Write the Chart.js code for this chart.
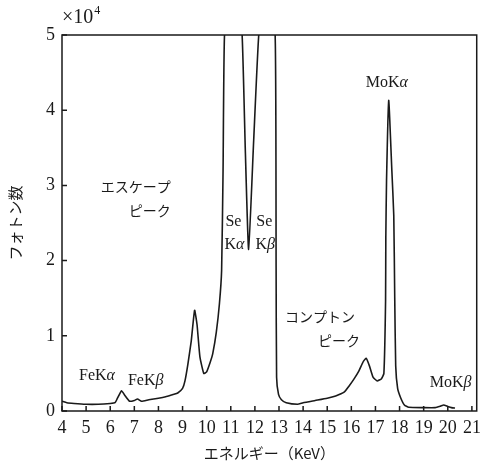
<!DOCTYPE html>
<html>
<head>
<meta charset="utf-8">
<script src="https://cdn.jsdelivr.net/npm/chart.js@4/dist/chart.umd.min.js"></script>
<style>
  body { margin: 0; background: #fff; }
  canvas { display: block; }
</style>
</head>
<body>
<canvas id="spec" width="487" height="466"></canvas>
<script>
// energy (keV) and photon count (x10^4)
const energy = [4.0, 4.2, 4.5, 5.0, 5.5, 6.0, 6.2, 6.3, 6.47, 6.6, 6.8, 7.0, 7.13, 7.3, 7.6, 8.0, 8.3, 8.6, 8.8,
  9.0, 9.1, 9.22, 9.36, 9.5, 9.6, 9.72, 9.88, 10.0, 10.15, 10.25, 10.4, 10.53, 10.62, 10.68, 10.74, 11.1,
  11.47, 11.6, 11.74, 11.95, 12.16, 12.5, 12.84, 12.88, 12.9, 12.98, 13.1, 13.3, 13.77, 14.0, 14.5, 15.0,
  15.35, 15.7, 15.9, 16.1, 16.31, 16.5, 16.62, 16.75, 16.9, 17.07, 17.25, 17.35, 17.42, 17.43, 17.46,
  17.55, 17.68, 17.76, 17.8, 17.84, 17.92, 18.04, 18.2, 18.38, 19.0, 19.48, 19.7, 19.83, 20.0, 20.15, 20.3];
const photons = [0.13, 0.11, 0.10, 0.09, 0.09, 0.10, 0.11, 0.17, 0.27, 0.21, 0.13, 0.14, 0.16, 0.13, 0.15, 0.17, 0.19, 0.22, 0.24,
  0.30, 0.40, 0.62, 0.93, 1.34, 1.15, 0.72, 0.50, 0.52, 0.65, 0.76, 1.05, 1.43, 1.87, 3.2, 5.0, 6.5,
  5.0, 3.5, 2.15, 3.6, 5.0, 6.0, 5.0, 1.9, 0.45, 0.22, 0.15, 0.11, 0.09, 0.11, 0.14, 0.17,
  0.20, 0.25, 0.33, 0.42, 0.53, 0.66, 0.70, 0.60, 0.45, 0.40, 0.43, 0.50, 1.47, 2.3, 3.07,
  4.13, 3.2, 2.6, 1.5, 0.6, 0.3, 0.18, 0.08, 0.05, 0.045, 0.045, 0.065, 0.08, 0.06, 0.045, 0.04];

const xTicks = [4, 5, 6, 7, 8, 9, 10, 11, 12, 13, 14, 15, 16, 17, 18, 19, 20, 21];
const yTicks = [0, 1, 2, 3, 4, 5];

// peak labels: [text parts, energy, count]; parts marked g are greek (italic)
const peakLabels = [
  [[['MoK'], ['α', 'g']], 17.47, 4.36],
  [[['FeK'], ['α', 'g']], 5.45, 0.47],
  [[['FeK'], ['β', 'g']], 7.47, 0.40],
  [[['MoK'], ['β', 'g']], 20.12, 0.37],
  [[['Se']], 11.11, 2.51],
  [[['K'], ['α', 'g']], 11.15, 2.21],
  [[['Se']], 12.39, 2.51],
  [[['K'], ['β', 'g']], 12.43, 2.21]
];
const jpLabels = [
  ['エスケープ', 7.06, 2.98],
  ['ピーク', 7.64, 2.66],
  ['コンプトン', 14.70, 1.26],
  ['ピーク', 15.49, 0.94]
];

const points = energy.map((e, i) => ({x: e, y: photons[i]}));
const serif = 'Liberation Serif, serif';
const jp = '"Noto Sans CJK JP", sans-serif';
const ink = '#1a1a1a';

function drawRich(ctx, parts, cx, cy, size) {
  let w = 0;
  parts.forEach(p => {
    ctx.font = (p[1] === 'g' ? 'italic ' : '') + size + 'px ' + serif;
    w += ctx.measureText(p[0]).width;
  });
  let x = cx - w / 2;
  ctx.textAlign = 'left';
  ctx.textBaseline = 'middle';
  parts.forEach(p => {
    ctx.font = (p[1] === 'g' ? 'italic ' : '') + size + 'px ' + serif;
    ctx.fillText(p[0], x, cy);
    x += ctx.measureText(p[0]).width;
  });
}

const framePlugin = {
  id: 'frame',
  afterDraw(chart) {
    const ctx = chart.ctx;
    const a = chart.chartArea;
    const xs = chart.scales.x, ys = chart.scales.y;
    ctx.save();
    ctx.strokeStyle = ink;
    ctx.lineWidth = 1.5;
    ctx.strokeRect(a.left, a.top, a.right - a.left, a.bottom - a.top);
    ctx.beginPath();
    xTicks.forEach(v => {
      const px = xs.getPixelForValue(v);
      ctx.moveTo(px, a.bottom);
      ctx.lineTo(px, a.bottom - 5);
    });
    yTicks.forEach(v => {
      const py = ys.getPixelForValue(v);
      ctx.moveTo(a.left, py);
      ctx.lineTo(a.left + 5, py);
    });
    ctx.stroke();

    ctx.fillStyle = ink;
    peakLabels.forEach(l => {
      drawRich(ctx, l[0], xs.getPixelForValue(l[1]), ys.getPixelForValue(l[2]), 16);
    });
    ctx.font = '14px ' + jp;
    ctx.textAlign = 'center';
    ctx.textBaseline = 'middle';
    jpLabels.forEach(l => {
      ctx.fillText(l[0], xs.getPixelForValue(l[1]), ys.getPixelForValue(l[2]));
    });

    // multiplier
    ctx.textAlign = 'left';
    ctx.textBaseline = 'middle';
    ctx.font = '20px ' + serif;
    ctx.fillText('×10', a.left, 18);
    const w = ctx.measureText('×10').width;
    ctx.font = '12px ' + serif;
    ctx.fillText('4', a.left + w + 1, 11);
    ctx.restore();
  }
};

new Chart(document.getElementById('spec'), {
  type: 'scatter',
  data: {
    datasets: [{
      data: points,
      showLine: true,
      borderColor: ink,
      borderWidth: 1.6,
      pointRadius: 0,
      tension: 0.15,
      fill: false
    }]
  },
  options: {
    responsive: false,
    animation: false,
    layout: {padding: {top: 35, right: 9, left: 0, bottom: 0}},
    plugins: {legend: {display: false}, tooltip: {enabled: false}},
    scales: {
      x: {
        type: 'linear',
        min: 4,
        max: 21.2,
        afterBuildTicks: s => { s.ticks = xTicks.map(v => ({value: v})); },
        afterFit: s => { s.height = 55; },
        grid: {display: false, drawTicks: false},
        border: {display: false},
        ticks: {font: {family: serif, size: 18}, color: ink, padding: 6, maxRotation: 0, autoSkip: false},
        title: {display: true, text: 'エネルギー（KeV）', color: ink, font: {family: jp, size: 15}, padding: {top: 4, bottom: 4}}
      },
      y: {
        min: 0,
        max: 5,
        afterBuildTicks: s => { s.ticks = yTicks.map(v => ({value: v})); },
        afterFit: s => { s.width = 62; },
        grid: {display: false, drawTicks: false},
        border: {display: false},
        ticks: {font: {family: serif, size: 18}, color: ink, padding: 7},
        title: {display: true, text: 'フォトン数', color: ink, font: {family: jp, size: 15}, padding: {top: 6, bottom: 0}}
      }
    }
  },
  plugins: [framePlugin]
});
</script>
</body>
</html>
